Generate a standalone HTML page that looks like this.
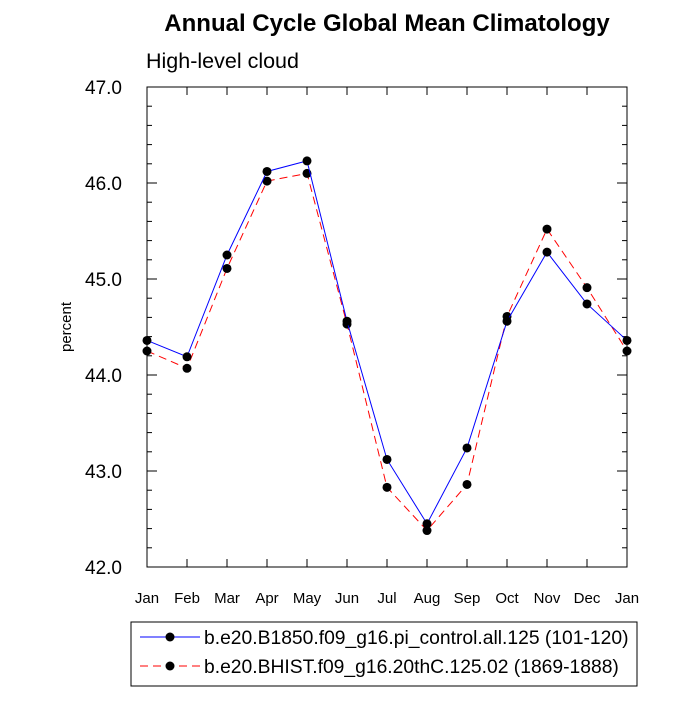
<!DOCTYPE html>
<html><head><meta charset="utf-8"><style>body{margin:0;background:#fff}svg{font-family:"Liberation Sans",sans-serif}</style></head>
<body>
<svg id="c" width="700" height="700" viewBox="0 0 700 700">
<text x="387" y="31" text-anchor="middle" font-size="24" font-weight="bold">Annual Cycle Global Mean Climatology</text>
<text x="146" y="68" font-size="21.5">High-level cloud</text>
<text transform="translate(71,327) rotate(-90)" text-anchor="middle" font-size="15">percent</text>
<rect x="147" y="87" width="480" height="480" fill="none" stroke="#000" stroke-width="1"/>
<g id="axes"></g><g id="series"></g>
<g>
<rect x="131" y="622" width="506" height="64" fill="none" stroke="#000" stroke-width="1"/>
<line x1="140" y1="637" x2="200" y2="637" stroke="#00f" stroke-width="1"/>
<circle cx="170" cy="637" r="4.5" fill="#000"/>
<text x="204" y="644" font-size="19.3">b.e20.B1850.f09_g16.pi_control.all.125 (101-120)</text>
<line x1="140" y1="666" x2="200" y2="666" stroke="#f00" stroke-width="1" stroke-dasharray="8,5"/>
<circle cx="170" cy="666" r="4.5" fill="#000"/>
<text x="204" y="673" font-size="19.3">b.e20.BHIST.f09_g16.20thC.125.02 (1869-1888)</text>
</g>
</svg>
<script>
const months=["Jan","Feb","Mar","Apr","May","Jun","Jul","Aug","Sep","Oct","Nov","Dec","Jan"];
const blueVals=[44.36,44.19,45.25,46.12,46.23,44.56,43.12,42.45,43.24,44.56,45.28,44.74,44.36];
const redVals=[44.25,44.07,45.11,46.02,46.10,44.53,42.83,42.38,42.86,44.61,45.52,44.91,44.25];
const yTicks=["42.0","43.0","44.0","45.0","46.0","47.0"];
const NS="http://www.w3.org/2000/svg";
const x0=147,x1=627,y0=567,y1=87,ymin=42,ymax=47;
const xs=i=>x0+i*(x1-x0)/(months.length-1);
const ys=v=>y0-(v-ymin)/(ymax-ymin)*(y0-y1);
function mk(t,a,p){const e=document.createElementNS(NS,t);for(const k in a)e.setAttribute(k,a[k]);p.appendChild(e);return e;}
const ax=document.getElementById('axes'),se=document.getElementById('series');
months.forEach((m,i)=>{const x=xs(i);
let l=mk('line',{x1:x,y1:y0,x2:x,y2:y0-8,stroke:'#000'},ax);


l=mk('line',{x1:x,y1:y1,x2:x,y2:y1+8,stroke:'#000'},ax);


const t=mk('text',{x:x,y:y0+36,'text-anchor':'middle','font-size':'15'},ax);t.textContent=m;

});
for(let v=ymin;v<=ymax+1e-9;v+=0.2){const y=ys(v);const maj=Math.abs(v-Math.round(v))<1e-6;const len=maj?10:5;
let l=mk('line',{x1:x0,y1:y,x2:x0+len,y2:y,stroke:'#000'},ax);


l=mk('line',{x1:x1,y1:y,x2:x1-len,y2:y,stroke:'#000'},ax);

}
yTicks.forEach(s=>{const t=mk('text',{x:x0-25,y:ys(parseFloat(s))+7,'text-anchor':'end','font-size':'19'},ax);t.textContent=s;

});
function draw(vals,col,dash,name){
const p=mk('polyline',{points:vals.map((v,i)=>xs(i)+','+ys(v)).join(' '),fill:'none',stroke:col,'stroke-width':1,'stroke-dasharray':dash},se);


vals.forEach((v,i)=>{const c=mk('circle',{cx:xs(i),cy:ys(v),r:4.5,fill:'#000'},se);

});}
draw(redVals,'#f00','8,5','bhist');
draw(blueVals,'#00f','none','b1850');
</script>
</body></html>
